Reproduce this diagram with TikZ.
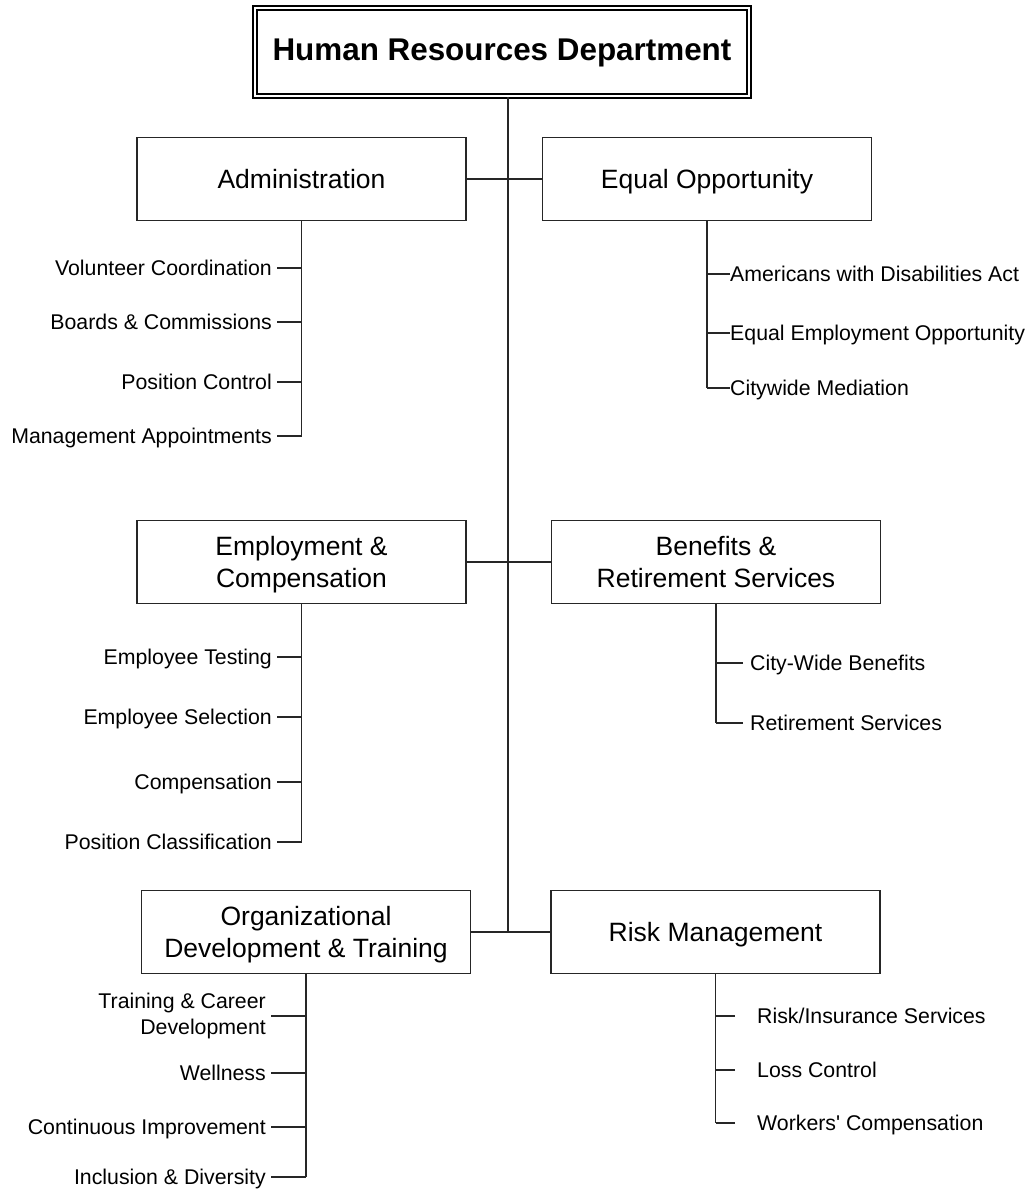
\documentclass[tikz,border=0pt]{standalone}
\usepackage{fontspec}
\setmainfont{Liberation Sans}
\begin{document}
\begin{tikzpicture}[x=1pt,y=-1pt,
  box/.style={draw=black!85, line width=1.2pt, minimum width=329pt, minimum height=83pt,
    align=center, font=\fontsize{26.5}{32}\selectfont, inner sep=0pt, text height=19pt, text depth=0pt},
  box2/.style={box, text height=51pt},
  item/.style={font=\fontsize{21.3}{25.5}\selectfont, inner ysep=0pt, text height=15.2pt, text depth=0pt},
  itemL/.style={item, anchor=east, inner xsep=5pt},
  itemR/.style={item, anchor=west},
  ln/.style={draw=black!85, line width=1.1pt}]
\useasboundingbox (0,0) rectangle (1031,1192);

% title
\node[draw=black, line width=1.6pt, double, double distance=2.6pt, minimum width=494pt, minimum height=88pt,
  font=\bfseries\fontsize{31.4}{36}\selectfont, inner sep=0pt, text height=22.5pt, text depth=6pt] (hr) at (502,52) {Human Resources Department};

% division boxes
\node[box] (adm) at (301.5,179) {Administration};
\node[box] (eo)  at (707,179) {Equal Opportunity};
\node[box2] (emp) at (301.5,562) {Employment \&\\Compensation};
\node[box2] (ben) at (716,562) {Benefits \&\\Retirement Services};
\node[box2] (org) at (306,932) {Organizational\\Development \& Training};
\node[box] (rm)  at (715.5,932) {Risk Management};

% trunk and connectors
\coordinate (tb) at (508,932);
\draw[ln] (hr.south -| tb) -- (tb);
\draw[ln] (adm.east) -- (eo.west);
\draw[ln] (emp.east) -- (ben.west);
\draw[ln] (org.east) -- (rm.west);

% Administration
\node[itemL] (a1) at (277,268) {Volunteer Coordination};
\node[itemL] (a2) at (277,322) {Boards \& Commissions};
\node[itemL] (a3) at (277,382) {Position Control};
\node[itemL] (a4) at (277,436) {Management Appointments};
\draw[ln] (adm.south) -- (adm.south |- a4.east);
\foreach \i in {1,...,4} \draw[ln] (a\i.east) -- (a\i.east -| adm.south);

% Equal Opportunity
\node[itemR, inner xsep=0pt] (e1) at (730,274) {Americans with Disabilities Act};
\node[itemR, inner xsep=0pt] (e2) at (730,333) {Equal Employment Opportunity};
\node[itemR, inner xsep=0pt] (e3) at (730,388) {Citywide Mediation};
\draw[ln] (eo.south) -- (eo.south |- e3.west);
\foreach \i in {1,...,3} \draw[ln] (e\i.west) -- (e\i.west -| eo.south);

% Employment & Compensation
\node[itemL] (c1) at (277,657) {Employee Testing};
\node[itemL] (c2) at (277,717) {Employee Selection};
\node[itemL] (c3) at (277,782) {Compensation};
\node[itemL] (c4) at (277,842) {Position Classification};
\draw[ln] (emp.south) -- (emp.south |- c4.east);
\foreach \i in {1,...,4} \draw[ln] (c\i.east) -- (c\i.east -| emp.south);

% Benefits
\node[itemR, inner xsep=7pt] (b1) at (743,663) {City-Wide Benefits};
\node[itemR, inner xsep=7pt] (b2) at (743,723) {Retirement Services};
\draw[ln] (ben.south) -- (ben.south |- b2.west);
\foreach \i in {1,2} \draw[ln] (b\i.west) -- (b\i.west -| ben.south);

% Organizational Development
\node[anchor=east, inner xsep=5pt, inner ysep=0pt, align=right, font=\fontsize{21.3}{25.5}\selectfont] (o1) at (271,1016) {Training \& Career\\Development};
\node[itemL] (o2) at (271,1073) {Wellness};
\node[itemL] (o3) at (271,1127) {Continuous Improvement};
\node[itemL] (o4) at (271,1177) {Inclusion \& Diversity};
\draw[ln] (org.south) -- (org.south |- o4.east);
\foreach \i in {1,...,4} \draw[ln] (o\i.east) -- (o\i.east -| org.south);

% Risk Management
\node[itemR, inner xsep=22pt] (r1) at (735,1016) {Risk/Insurance Services};
\node[itemR, inner xsep=22pt] (r2) at (735,1070) {Loss Control};
\node[itemR, inner xsep=22pt] (r3) at (735,1123) {Workers\textquotesingle{} Compensation};
\draw[ln] (rm.south) -- (rm.south |- r3.west);
\foreach \i in {1,...,3} \draw[ln] (r\i.west) -- (r\i.west -| rm.south);
\end{tikzpicture}
\end{document}
